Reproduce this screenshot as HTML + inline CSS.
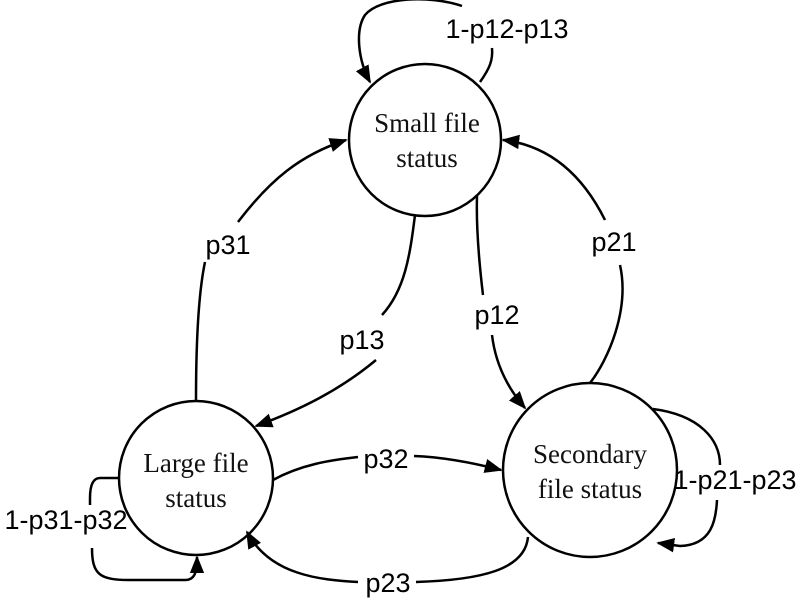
<!DOCTYPE html>
<html><head><style>body{margin:0;background:#fff}svg{display:block}</style></head><body>
<svg width="800" height="600" viewBox="0 0 800 600" xmlns="http://www.w3.org/2000/svg">
<defs>
<marker id="b" viewBox="0 0 10 10" refX="9" refY="5" markerWidth="18" markerHeight="18" orient="auto" markerUnits="userSpaceOnUse"><path d="M0,1 L10,5 L0,9 z" fill="#000"/></marker></defs>
<g fill="none" stroke="#000" stroke-width="2.5">
<circle cx="425" cy="140" r="76"/>
<circle cx="196" cy="478" r="77"/>
<circle cx="590" cy="470" r="87"/>
<!-- self loop small -->
<path d="M480,82 C490,68 493,60 492,48"/>
<path d="M462,6 C430,-5 380,-3 365,15 C355,30 358,60 370,82" marker-end="url(#b)"/>
<!-- p31 -->
<path d="M196,401 C196,360 197,300 205,262"/>
<path d="M238,222 C270,180 300,155 346,140" marker-end="url(#b)"/>
<!-- p21 -->
<path d="M590,383 C608,360 630,310 620,265"/>
<path d="M605,220 C580,170 545,145 503,140" marker-end="url(#b)"/>
<!-- p13 -->
<path d="M415,215 C410,255 405,290 382,315"/>
<path d="M376,360 C340,390 300,410 256,426" marker-end="url(#b)"/>
<!-- p12 -->
<path d="M477,196 C476,230 480,270 483,295"/>
<path d="M492,335 C495,360 505,385 525,408" marker-end="url(#b)"/>
<!-- p32 -->
<path d="M273,480 C300,465 330,460 358,457"/>
<path d="M414,456 C440,457 470,462 501,470" marker-end="url(#b)"/>
<!-- p23 -->
<path d="M528,537 C525,570 480,580 416,582"/>
<path d="M358,582 C320,580 270,575 247,532" marker-end="url(#b)"/>
<!-- self loop large -->
<path d="M119,478 L100,478 C92,478 90,488 90,498 L90,505"/>
<path d="M92,548 C92,575 100,580 130,580 L185,580 C195,580 197,572 197,557" marker-end="url(#b)"/>
<!-- self loop secondary -->
<path d="M653,409 C700,415 720,440 720,465"/>
<path d="M717,500 C716,520 712,545 680,546 L658,543" marker-end="url(#b)"/>
</g>
<g font-family="Liberation Serif, serif" font-size="27" fill="#111" text-anchor="middle">
<text x="427" y="132">Small file</text><text x="427" y="167">status</text>
<text x="196" y="472">Large file</text><text x="196" y="507">status</text>
<text x="590" y="463">Secondary</text><text x="590" y="498">file status</text>
</g>
<g font-family="Liberation Sans, sans-serif" font-size="27" fill="#000" text-anchor="middle">
<text x="507" y="38">1-p12-p13</text>
<text x="228" y="254">p31</text>
<text x="614" y="251">p21</text>
<text x="362" y="349">p13</text>
<text x="497" y="324">p12</text>
<text x="386" y="468">p32</text>
<text x="388" y="592">p23</text>
<text x="66" y="529">1-p31-p32</text>
<text x="735" y="489">1-p21-p23</text>
</g>
</svg>
</body></html>
